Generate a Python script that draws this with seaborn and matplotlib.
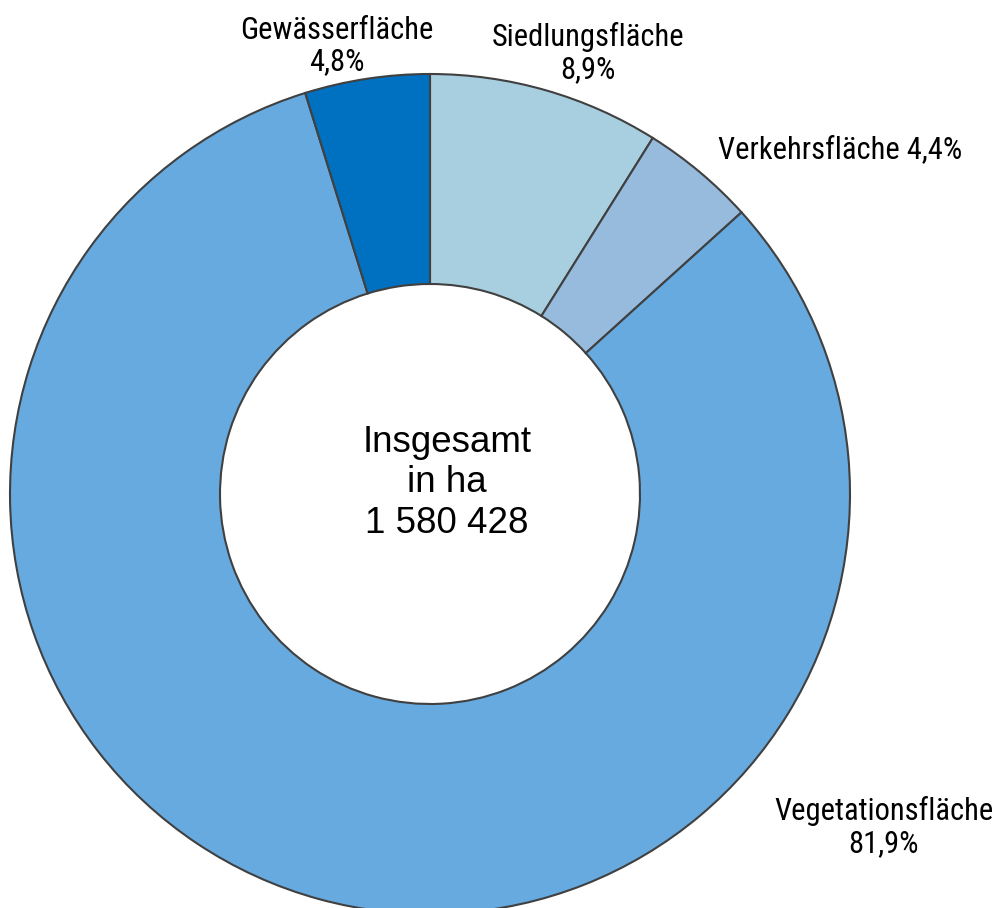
import matplotlib
matplotlib.use("Agg")
import matplotlib.pyplot as plt
import seaborn as sns

categories = ["Siedlungsfläche", "Verkehrsfläche", "Vegetationsfläche", "Gewässerfläche"]
shares = [8.9, 4.4, 81.9, 4.8]
label_texts = ["Siedlungsfläche\n8,9%", "Verkehrsfläche 4,4%", "Vegetationsfläche\n81,9%", "Gewässerfläche\n4,8%"]
colors = ["#A8CFE0", "#96BBDD", "#66AAE0", "#0070C0"]
center_text = "Insgesamt\nin ha\n1 580 428"

sns.set_theme(style="white")
plt.rcParams["font.family"] = ["Roboto Condensed", "DejaVu Sans"]

W, H = 993, 908
fig = plt.figure(figsize=(W / 100, H / 100), dpi=100)
ax = fig.add_axes([0, 0, 1, 1])

cx, cy = 430, H - 494
R = 420
ax.pie(shares, colors=colors, startangle=90, counterclock=False,
       radius=R, center=(cx, cy), frame=True,
       wedgeprops=dict(width=R - 210, edgecolor="#404040", linewidth=1.5))
ax.set_xlim(0, W)
ax.set_ylim(0, H)
ax.set_aspect("equal")
ax.axis("off")

label_pos = [(588, H - 53), (840, H - 150), (884, H - 827), (337, H - 46)]
for txt, (x, y) in zip(label_texts, label_pos):
    ax.text(x, y, txt, ha="center", va="center", fontsize=22, color="black",
            linespacing=1.12)

ax.text(447, H - 483, center_text, ha="center", va="center", fontsize=26.5,
        family=["Liberation Sans", "DejaVu Sans"], color="black", linespacing=1.22)

fig.savefig("out.png", dpi=100)
